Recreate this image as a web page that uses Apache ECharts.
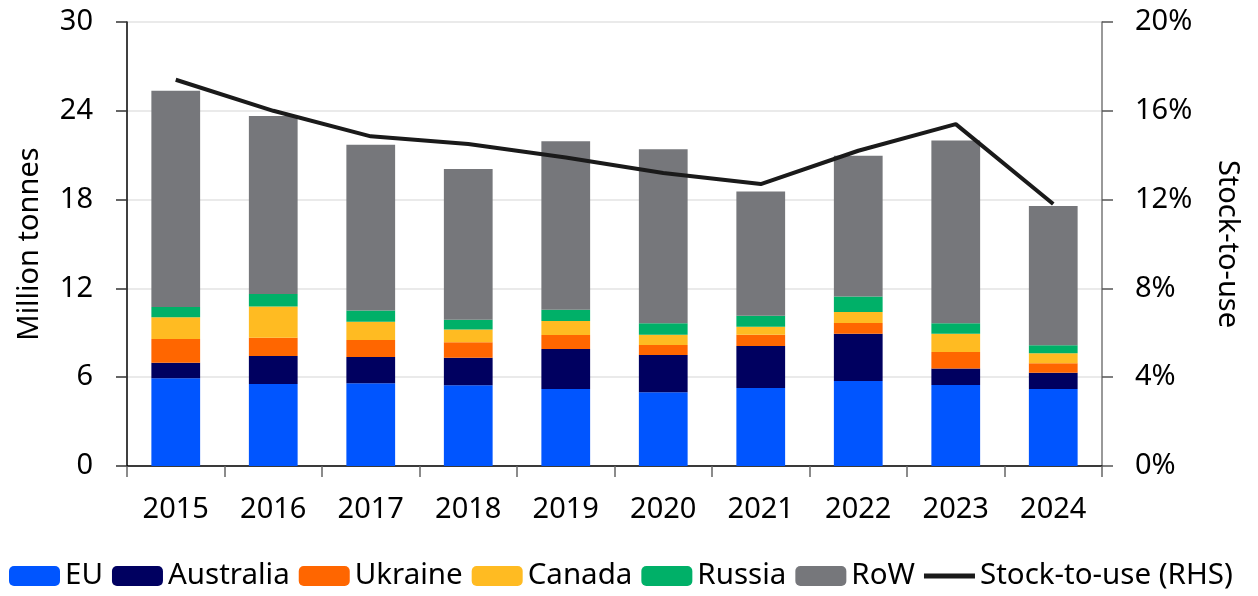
<!DOCTYPE html>
<html>
<head>
<meta charset="utf-8">
<script src="https://cdn.jsdelivr.net/npm/echarts@6/dist/echarts.min.js"></script>
<style>
  html, body { margin: 0; padding: 0; background: #fff; }
  #chart { width: 1258px; height: 596px; }
</style>
</head>
<body>
<div id="chart"></div>
<script>
var years = ['2015', '2016', '2017', '2018', '2019', '2020', '2021', '2022', '2023', '2024'];

// million tonnes
var eu        = [5.93, 5.54, 5.59, 5.45, 5.20, 4.98, 5.27, 5.74, 5.47, 5.20];
var australia = [1.05, 1.89, 1.77, 1.87, 2.71, 2.52, 2.84, 3.20, 1.11, 1.10];
var ukraine   = [1.60, 1.24, 1.15, 1.04, 0.94, 0.68, 0.76, 0.72, 1.12, 0.64];
var canada    = [1.47, 2.10, 1.24, 0.87, 0.95, 0.69, 0.54, 0.75, 1.24, 0.67];
var russia    = [0.69, 0.85, 0.75, 0.66, 0.76, 0.77, 0.75, 1.05, 0.70, 0.55];
var row       = [14.62, 12.03, 11.21, 10.18, 11.38, 11.76, 8.38, 9.51, 12.36, 9.41];

// stock-to-use, %
var stockToUse = [17.4, 16.0, 14.85, 14.5, 13.9, 13.2, 12.7, 14.2, 15.4, 11.8];

var leftTicks = [0, 6, 12, 18, 24, 30];
var rightTicks = [0, 4, 8, 12, 16, 20];

var font = '"Noto Sans", "Open Sans", sans-serif';

function bar(name, data, color) {
    return {
        name: name,
        type: 'bar',
        stack: 'total',
        barWidth: '50%',
        data: data,
        itemStyle: { color: color },
        emphasis: { disabled: true }
    };
}

var chart = echarts.init(document.getElementById('chart'));
chart.setOption({
    animation: false,
    textStyle: { fontFamily: font },
    grid: { left: 127, right: 156, top: 22, bottom: 130, containLabel: false },
    legend: {
        left: 9,
        top: 556,
        padding: [5, 0, 5, 0],
        itemWidth: 51,
        itemHeight: 20,
        itemGap: 9,
        textStyle: { fontSize: 29.5, color: '#000', fontFamily: font },
        data: ['EU', 'Australia', 'Ukraine', 'Canada', 'Russia', 'RoW',
               { name: 'Stock-to-use (RHS)', icon: 'path://M0,0 L10,0 L10,1 L0,1 Z' }]
    },
    xAxis: {
        type: 'category',
        data: years,
        axisLine: { lineStyle: { color: '#000', width: 1.5 } },
        axisTick: { show: true, alignWithLabel: false, length: 11, lineStyle: { color: '#666', width: 1.5 } },
        axisLabel: { fontSize: 29, color: '#000', margin: 29 }
    },
    yAxis: [
        {
            type: 'value',
            min: leftTicks[0],
            max: leftTicks[leftTicks.length - 1],
            interval: 6,
            name: 'Million tonnes',
            nameLocation: 'middle',
            nameGap: 83,
            nameRotate: 90,
            nameTextStyle: { fontSize: 29, color: '#000' },
            axisLine: { show: true, lineStyle: { color: '#000', width: 1.5 } },
            axisTick: { show: true, length: 11, lineStyle: { color: '#333', width: 1.5 } },
            axisLabel: { fontSize: 29, color: '#000', margin: 34 },
            splitLine: { lineStyle: { color: '#e3e3e3', width: 1.5 } }
        },
        {
            type: 'value',
            position: 'right',
            min: rightTicks[0],
            max: rightTicks[rightTicks.length - 1],
            interval: 4,
            name: 'Stock-to-use',
            nameLocation: 'middle',
            nameGap: 111,
            nameRotate: -90,
            nameTextStyle: { fontSize: 29, color: '#000' },
            axisLine: { show: true, lineStyle: { color: '#777', width: 1.5 } },
            axisTick: { show: true, length: 11, lineStyle: { color: '#555', width: 1.5 } },
            axisLabel: { fontSize: 29, color: '#000', margin: 33, formatter: '{value}%' },
            splitLine: { show: false }
        }
    ],
    series: [
        bar('EU', eu, '#0055ff'),
        bar('Australia', australia, '#000060'),
        bar('Ukraine', ukraine, '#ff6600'),
        bar('Canada', canada, '#ffbb22'),
        bar('Russia', russia, '#00b068'),
        bar('RoW', row, '#76777b'),
        {
            name: 'Stock-to-use (RHS)',
            type: 'line',
            yAxisIndex: 1,
            data: stockToUse,
            symbol: 'none',
            itemStyle: { color: '#1a1a1a' },
            lineStyle: { color: '#1a1a1a', width: 4 },
            emphasis: { disabled: true }
        }
    ]
});
</script>
</body>
</html>
